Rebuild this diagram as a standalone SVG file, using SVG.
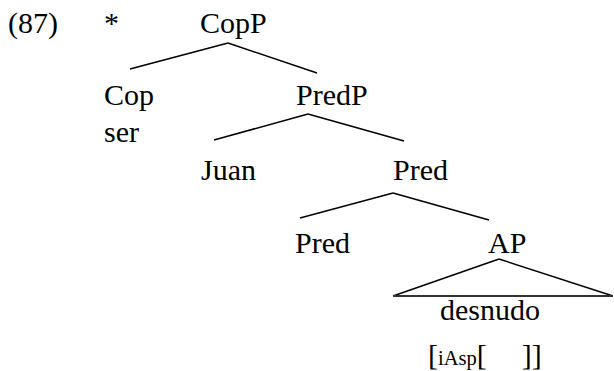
<svg xmlns="http://www.w3.org/2000/svg" width="614" height="371" viewBox="0 0 614 371">
<style>
text{font-family:"Liberation Serif","Times New Roman",serif;font-size:30px;fill:#000}
.sm{font-size:20.5px}
.e{stroke:#000;stroke-width:1.5;fill:none}
.b{stroke:#333;stroke-width:2.2;fill:none}
</style>
<rect width="614" height="371" fill="#fff"/>
<g id="label"><text x="8" y="33">(87)</text><text x="104" y="33">*</text></g>
<g id="connectors">
<line class="e" x1="228" y1="43" x2="130" y2="69"/>
<line class="e" x1="228" y1="43" x2="317" y2="73"/>
<line class="e" x1="308" y1="114" x2="214" y2="140"/>
<line class="e" x1="308" y1="114" x2="404" y2="141"/>
<line class="e" x1="393" y1="193" x2="300" y2="218"/>
<line class="e" x1="393" y1="193" x2="489" y2="220"/>
<line class="e" x1="499" y1="259" x2="393" y2="296"/>
<line class="e" x1="499" y1="259" x2="613" y2="296"/>
<line class="b" x1="393" y1="296" x2="613" y2="296"/>
</g>
<g id="CopP"><text x="200" y="33">CopP</text></g>
<g id="Cop"><text x="104" y="105">Cop</text><text x="104" y="142">ser</text></g>
<g id="PredP"><text x="296" y="105">PredP</text></g>
<g id="Juan"><text x="201" y="180">Juan</text></g>
<g id="Pred1"><text x="393" y="180">Pred</text></g>
<g id="Pred2"><text x="295" y="253">Pred</text></g>
<g id="AP"><text x="488" y="253">AP</text></g>
<g id="desnudo"><text x="440" y="320">desnudo</text>
<text x="428" y="365">[<tspan class="sm">iAsp</tspan>[<tspan dx="35">]]</tspan></text></g>
</svg>
